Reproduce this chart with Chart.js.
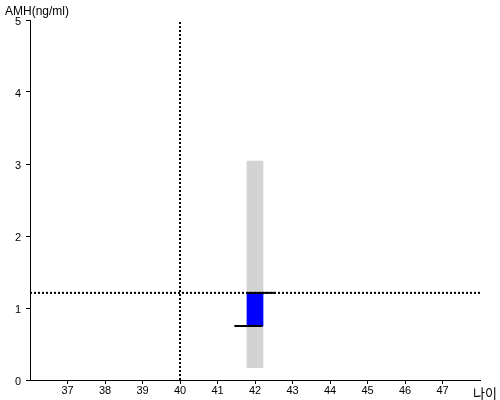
<!DOCTYPE html>
<html>
<head>
<meta charset="utf-8">
<script src="https://cdn.jsdelivr.net/npm/chart.js@4"></script>
<style>
html,body{margin:0;padding:0;background:#fff;}
#wrap{width:500px;height:400px;position:relative;}
</style>
</head>
<body>
<div id="wrap"><canvas id="c" width="500" height="400"></canvas></div>
<script>
// Data
const xTicks = [37, 38, 39, 40, 41, 42, 43, 44, 45, 46, 47];
const yTicks = [0, 1, 2, 3, 4, 5];
const barAge = 42;
const rangeLow = 0.17, rangeHigh = 3.04;     // grey reference range
const valueLow = 0.75, valueHigh = 1.21;     // blue bar
const refAge = 40;                            // vertical dotted line
const refAMH = 1.21;                          // horizontal dotted line
const xMin = 36, xMax = 48, yMin = 0, yMax = 5;
const yTitle = 'AMH(ng/ml)';
const xTitle = '나이';

const textPlugin = {
  id: 'texts',
  afterDraw(chart) {
    const ctx = chart.ctx;
    ctx.save();
    ctx.fillStyle = '#000';
    ctx.textBaseline = 'alphabetic';
    ctx.textAlign = 'left';
    ctx.font = '12px "Liberation Sans", Arial, sans-serif';
    ctx.fillText(yTitle, 5, 15);
    ctx.font = '13px "Noto Sans CJK KR", sans-serif';
    ctx.fillText(xTitle, 473, 398);
    ctx.restore();
  }
};

new Chart(document.getElementById('c'), {
  type: 'bar',
  data: {
    datasets: [
      {
        type: 'bar', grouped: false, order: 5,
        data: [{x: barAge, y: [rangeLow, rangeHigh]}],
        backgroundColor: '#d3d3d3', barThickness: 16, borderWidth: 0
      },
      {
        type: 'bar', grouped: false, order: 4,
        data: [{x: barAge, y: [valueLow, valueHigh]}],
        backgroundColor: '#0000ff', barThickness: 16, borderWidth: 0
      },
      {
        type: 'line', order: 3,
        data: [{x: xMin, y: refAMH}, {x: xMax, y: refAMH}],
        borderColor: '#000', borderWidth: 2, borderDash: [2, 2], pointRadius: 0
      },
      {
        type: 'line', order: 3,
        data: [{x: refAge, y: yMin}, {x: refAge, y: yMax}],
        borderColor: '#000', borderWidth: 2, borderDash: [2, 2], pointRadius: 0
      },
      {
        type: 'line', order: 1,
        data: [{x: barAge - 0.22, y: valueHigh}, {x: barAge + 0.55, y: valueHigh}],
        borderColor: '#000', borderWidth: 2, pointRadius: 0
      },
      {
        type: 'line', order: 1,
        data: [{x: barAge - 0.55, y: valueLow}, {x: barAge + 0.2, y: valueLow}],
        borderColor: '#000', borderWidth: 2, pointRadius: 0
      }
    ]
  },
  options: {
    responsive: false,
    animation: false,
    events: [],
    layout: {padding: {top: 20, right: 20, left: 0, bottom: 0}},
    plugins: {legend: {display: false}, tooltip: {enabled: false}},
    scales: {
      x: {
        type: 'linear', min: xMin, max: xMax, offset: false,
        afterBuildTicks: s => { s.ticks = xTicks.map(v => ({value: v})); },
        afterFit: s => { s.height = 20; },
        grid: {display: true, offset: false, drawOnChartArea: false, drawTicks: true, tickLength: 4, color: '#000'},
        border: {display: true, color: '#000', width: 1},
        ticks: {color: '#000', font: {family: '"Liberation Sans", Arial, sans-serif', size: 11}, padding: 0, maxRotation: 0, autoSkip: false}
      },
      y: {
        type: 'linear', min: yMin, max: yMax,
        afterBuildTicks: s => { s.ticks = yTicks.map(v => ({value: v})); },
        afterFit: s => { s.width = 30; },
        grid: {display: true, offset: false, drawOnChartArea: false, drawTicks: true, tickLength: 4, color: '#000'},
        border: {display: true, color: '#000', width: 1},
        ticks: {color: '#000', font: {family: '"Liberation Sans", Arial, sans-serif', size: 11}, padding: 5, labelOffset: 2}
      }
    }
  },
  plugins: [textPlugin]
});
</script>
</body>
</html>
